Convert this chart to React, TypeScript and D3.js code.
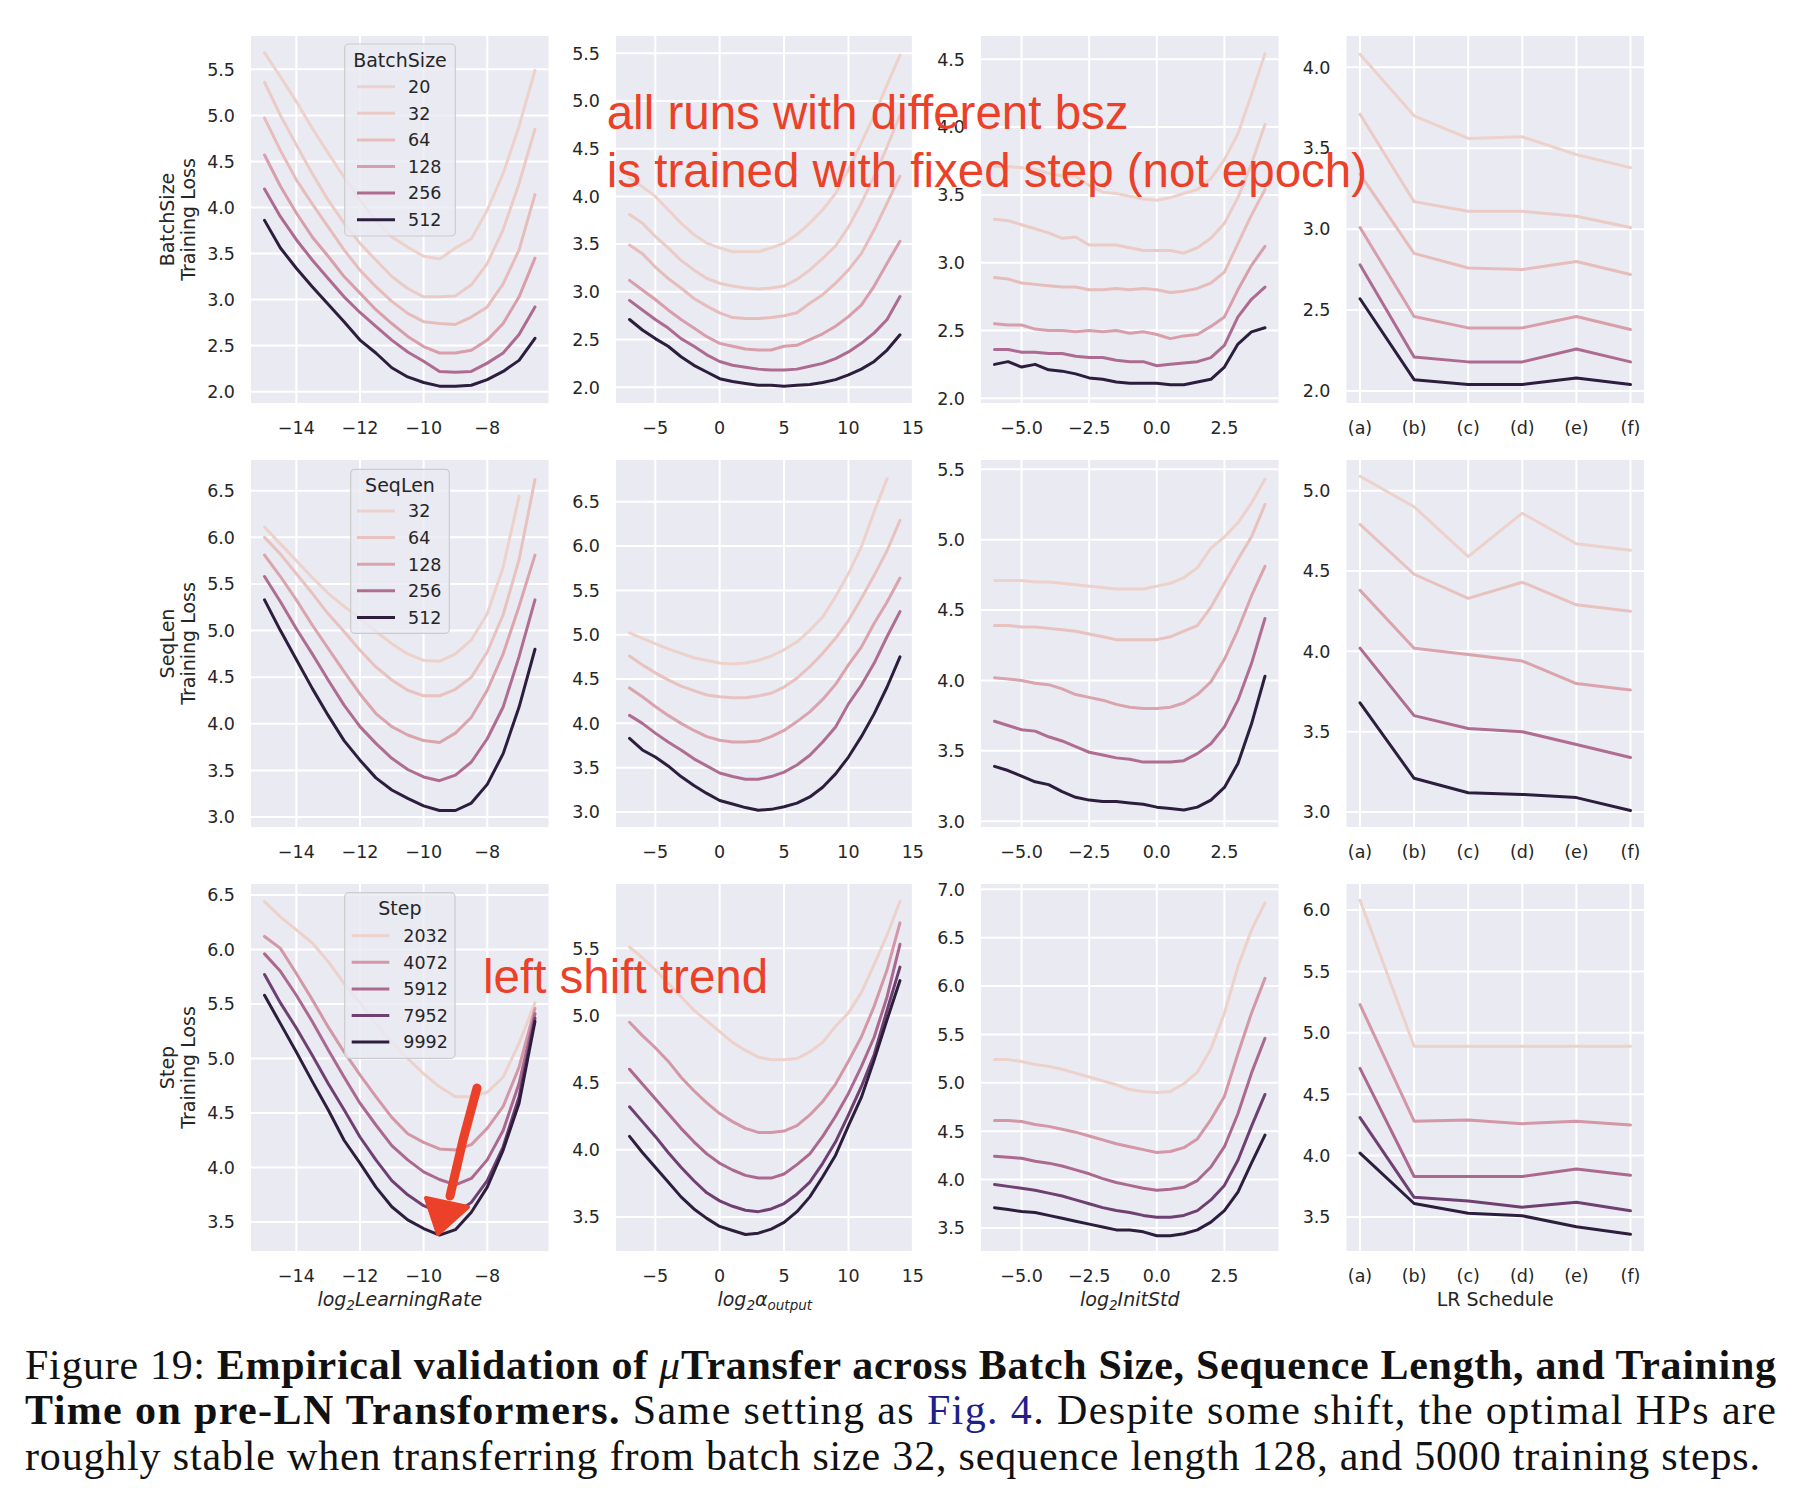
import React from 'react';
import * as d3 from 'd3';

// ---------- x grids ----------
const LR_X = [-15, -14.5, -14, -13.5, -13, -12.5, -12, -11.5, -11, -10.5, -10, -9.5, -9, -8.5, -8, -7.5, -7, -6.5];
const ALPHA_X = [-7, -6, -5, -4, -3, -2, -1, 0, 1, 2, 3, 4, 5, 6, 7, 8, 9, 10, 11, 12, 13, 14];
const STD_X = [-6, -5.5, -5, -4.5, -4, -3.5, -3, -2.5, -2, -1.5, -1, -0.5, 0, 0.5, 1, 1.5, 2, 2.5, 3, 3.5, 4];
const SCHED = ['(a)', '(b)', '(c)', '(d)', '(e)', '(f)'];

// ---------- hue levels ----------
const BATCH_SIZES = [20, 32, 64, 128, 256, 512];
const SEQ_LENS = [32, 64, 128, 256, 512];
const STEPS = [2032, 4072, 5912, 7952, 9992];

// ---------- row 1: BatchSize ----------
const BS_LR = [
  [5.68, 5.42, 5.15, 4.86, 4.59, 4.33, 4.08, 3.86, 3.68, 3.57, 3.47, 3.44, 3.56, 3.66, 3.97, 4.37, 4.88, 5.49],
  [5.36, 5.0, 4.68, 4.37, 4.08, 3.83, 3.61, 3.43, 3.25, 3.12, 3.03, 3.03, 3.04, 3.16, 3.39, 3.76, 4.26, 4.85],
  [4.97, 4.62, 4.3, 4.04, 3.79, 3.54, 3.32, 3.14, 2.98, 2.85, 2.76, 2.74, 2.73, 2.81, 2.92, 3.17, 3.54, 4.14],
  [4.57, 4.23, 3.94, 3.68, 3.47, 3.25, 3.07, 2.89, 2.74, 2.6, 2.49, 2.42, 2.42, 2.45, 2.56, 2.74, 3.03, 3.45],
  [4.2, 3.9, 3.65, 3.43, 3.23, 3.03, 2.86, 2.71, 2.56, 2.43, 2.33, 2.22, 2.21, 2.22, 2.31, 2.42, 2.62, 2.92],
  [3.86, 3.56, 3.34, 3.14, 2.95, 2.76, 2.56, 2.42, 2.26, 2.16, 2.1, 2.06, 2.06, 2.07, 2.13, 2.22, 2.34, 2.58],
];
const BS_ALPHA = [
  [4.19, 4.1, 4.0, 3.86, 3.72, 3.6, 3.51, 3.46, 3.42, 3.42, 3.42, 3.46, 3.51, 3.6, 3.72, 3.86, 4.03, 4.28, 4.56, 4.85, 5.17, 5.48],
  [3.81, 3.72, 3.58, 3.46, 3.33, 3.23, 3.14, 3.09, 3.06, 3.04, 3.03, 3.04, 3.06, 3.13, 3.23, 3.35, 3.48, 3.68, 3.93, 4.21, 4.52, 4.85],
  [3.49, 3.4, 3.26, 3.14, 3.04, 2.93, 2.85, 2.78, 2.73, 2.72, 2.72, 2.73, 2.75, 2.78, 2.88, 2.97, 3.09, 3.23, 3.4, 3.65, 3.93, 4.21],
  [3.12, 3.02, 2.92, 2.81, 2.71, 2.62, 2.53, 2.46, 2.43, 2.4, 2.39, 2.39, 2.43, 2.44, 2.5, 2.56, 2.64, 2.74, 2.86, 3.06, 3.3, 3.53],
  [2.91, 2.81, 2.71, 2.62, 2.51, 2.43, 2.34, 2.27, 2.23, 2.21, 2.19, 2.18, 2.18, 2.19, 2.22, 2.25, 2.3, 2.37, 2.46, 2.57, 2.71, 2.95],
  [2.71, 2.6, 2.51, 2.43, 2.32, 2.23, 2.16, 2.09, 2.06, 2.04, 2.02, 2.02, 2.01, 2.02, 2.03, 2.05, 2.08, 2.13, 2.19, 2.27, 2.39, 2.55],
];
const BS_STD = [
  [3.71, 3.71, 3.7, 3.69, 3.66, 3.64, 3.64, 3.57, 3.52, 3.51, 3.49, 3.47, 3.46, 3.48, 3.51, 3.54, 3.62, 3.76, 3.95, 4.24, 4.54],
  [3.32, 3.31, 3.28, 3.25, 3.22, 3.18, 3.19, 3.13, 3.13, 3.13, 3.11, 3.09, 3.09, 3.09, 3.07, 3.11, 3.18, 3.29, 3.48, 3.73, 4.02],
  [2.89, 2.88, 2.85, 2.84, 2.83, 2.82, 2.82, 2.8, 2.8, 2.81, 2.8, 2.81, 2.8, 2.78, 2.79, 2.81, 2.85, 2.93, 3.14, 3.35, 3.54],
  [2.55, 2.54, 2.54, 2.51, 2.5, 2.5, 2.49, 2.5, 2.49, 2.5, 2.48, 2.49, 2.47, 2.44, 2.46, 2.47, 2.53, 2.6, 2.8, 2.98, 3.12],
  [2.36, 2.36, 2.34, 2.34, 2.33, 2.33, 2.31, 2.3, 2.3, 2.28, 2.27, 2.27, 2.24, 2.25, 2.26, 2.27, 2.3, 2.39, 2.6, 2.73, 2.82],
  [2.25, 2.27, 2.23, 2.25, 2.21, 2.2, 2.18, 2.15, 2.14, 2.12, 2.11, 2.11, 2.11, 2.1, 2.1, 2.12, 2.14, 2.23, 2.4, 2.49, 2.52],
];
const BS_SCHED = [
  [4.08, 3.7, 3.56, 3.57, 3.46, 3.38],
  [3.71, 3.17, 3.11, 3.11, 3.08, 3.01],
  [3.34, 2.85, 2.76, 2.75, 2.8, 2.72],
  [3.01, 2.46, 2.39, 2.39, 2.46, 2.38],
  [2.78, 2.21, 2.18, 2.18, 2.26, 2.18],
  [2.57, 2.07, 2.04, 2.04, 2.08, 2.04],
];

// ---------- row 2: SeqLen ----------
const SEQ_LR = [
  [6.11, 5.93, 5.75, 5.57, 5.4, 5.26, 5.13, 4.99, 4.86, 4.75, 4.68, 4.67, 4.75, 4.9, 5.18, 5.68, 6.44],
  [6.0, 5.82, 5.61, 5.4, 5.18, 4.99, 4.79, 4.61, 4.47, 4.36, 4.3, 4.3, 4.37, 4.5, 4.77, 5.17, 5.76, 6.62],
  [5.81, 5.58, 5.33, 5.06, 4.81, 4.56, 4.32, 4.11, 3.97, 3.88, 3.82, 3.8, 3.9, 4.07, 4.36, 4.75, 5.26, 5.81],
  [5.58, 5.31, 5.02, 4.75, 4.47, 4.2, 3.97, 3.79, 3.63, 3.51, 3.43, 3.39, 3.45, 3.59, 3.84, 4.18, 4.72, 5.33],
  [5.33, 5.0, 4.69, 4.38, 4.09, 3.82, 3.61, 3.42, 3.29, 3.2, 3.12, 3.07, 3.07, 3.15, 3.35, 3.68, 4.18, 4.8],
];
const SEQ_ALPHA = [
  [5.02, 4.96, 4.9, 4.84, 4.79, 4.74, 4.71, 4.68, 4.67, 4.68, 4.71, 4.76, 4.83, 4.92, 5.05, 5.2, 5.43, 5.69, 5.99, 6.39, 6.76],
  [4.76, 4.66, 4.57, 4.49, 4.42, 4.37, 4.32, 4.3, 4.29, 4.29, 4.31, 4.34, 4.41, 4.51, 4.64, 4.79, 4.96, 5.16, 5.41, 5.67, 5.95, 6.29],
  [4.4, 4.3, 4.19, 4.09, 4.0, 3.92, 3.85, 3.81, 3.79, 3.79, 3.8, 3.85, 3.92, 4.02, 4.13, 4.27, 4.44, 4.66, 4.86, 5.13, 5.37, 5.64],
  [4.09, 4.0, 3.89, 3.79, 3.7, 3.6, 3.52, 3.44, 3.4, 3.37, 3.37, 3.4, 3.45, 3.53, 3.64, 3.79, 3.96, 4.22, 4.43, 4.68, 4.98, 5.26],
  [3.83, 3.7, 3.62, 3.52, 3.4, 3.3, 3.21, 3.13, 3.09, 3.05, 3.02, 3.03, 3.06, 3.1, 3.17, 3.28, 3.43, 3.62, 3.85, 4.11, 4.41, 4.75],
];
const SEQ_STD = [
  [4.71, 4.71, 4.71, 4.7, 4.7, 4.69, 4.68, 4.67, 4.66, 4.65, 4.65, 4.65, 4.67, 4.69, 4.73, 4.8, 4.94, 5.02, 5.12, 5.26, 5.43],
  [4.39, 4.39, 4.38, 4.38, 4.37, 4.36, 4.35, 4.33, 4.31, 4.29, 4.29, 4.29, 4.29, 4.31, 4.35, 4.39, 4.52, 4.69, 4.86, 5.02, 5.25],
  [4.02, 4.01, 4.0, 3.98, 3.97, 3.94, 3.9, 3.88, 3.86, 3.83, 3.81, 3.8, 3.8, 3.81, 3.84, 3.9, 3.99, 4.15, 4.36, 4.6, 4.81],
  [3.71, 3.68, 3.65, 3.64, 3.6, 3.57, 3.53, 3.49, 3.47, 3.45, 3.44, 3.42, 3.42, 3.42, 3.43, 3.48, 3.55, 3.67, 3.86, 4.12, 4.44],
  [3.39, 3.36, 3.32, 3.28, 3.26, 3.21, 3.17, 3.15, 3.14, 3.14, 3.13, 3.12, 3.1, 3.09, 3.08, 3.1, 3.15, 3.24, 3.41, 3.69, 4.03],
];
const SEQ_SCHED = [
  [5.09, 4.9, 4.59, 4.86, 4.67, 4.63],
  [4.79, 4.48, 4.33, 4.43, 4.29, 4.25],
  [4.38, 4.02, 3.98, 3.94, 3.8, 3.76],
  [4.02, 3.6, 3.52, 3.5, 3.42, 3.34],
  [3.68, 3.21, 3.12, 3.11, 3.09, 3.01],
];

// ---------- row 3: Step ----------
const STEP_LR = [
  [6.44, 6.3, 6.18, 6.06, 5.89, 5.69, 5.51, 5.32, 5.15, 5.0, 4.86, 4.74, 4.65, 4.65, 4.69, 4.83, 5.14, 5.51],
  [6.12, 6.01, 5.78, 5.54, 5.29, 5.06, 4.85, 4.65, 4.46, 4.31, 4.23, 4.17, 4.16, 4.21, 4.36, 4.56, 4.92, 5.46],
  [5.96, 5.8, 5.58, 5.34, 5.08, 4.83, 4.59, 4.39, 4.2, 4.07, 3.96, 3.89, 3.84, 3.9, 4.07, 4.34, 4.77, 5.41],
  [5.77, 5.51, 5.28, 5.03, 4.77, 4.53, 4.28, 4.07, 3.88, 3.75, 3.65, 3.59, 3.58, 3.68, 3.88, 4.19, 4.65, 5.37],
  [5.58, 5.32, 5.06, 4.79, 4.53, 4.25, 4.04, 3.82, 3.64, 3.52, 3.44, 3.38, 3.43, 3.59, 3.82, 4.16, 4.59, 5.34],
];
const STEP_ALPHA = [
  [5.51, 5.43, 5.34, 5.24, 5.14, 5.04, 4.96, 4.88, 4.8, 4.74, 4.69, 4.67, 4.67, 4.68, 4.73, 4.8, 4.92, 5.02, 5.17, 5.38, 5.6, 5.85],
  [4.95, 4.85, 4.76, 4.66, 4.54, 4.44, 4.35, 4.27, 4.21, 4.16, 4.13, 4.13, 4.14, 4.18, 4.26, 4.36, 4.49, 4.66, 4.84, 5.07, 5.34, 5.69],
  [4.6, 4.49, 4.38, 4.27, 4.16, 4.06, 3.97, 3.9, 3.85, 3.81, 3.79, 3.79, 3.82, 3.89, 3.97, 4.1, 4.25, 4.42, 4.62, 4.84, 5.14, 5.53],
  [4.32, 4.21, 4.1, 3.98, 3.87, 3.77, 3.68, 3.62, 3.58, 3.55, 3.54, 3.56, 3.6, 3.67, 3.76, 3.9, 4.06, 4.26, 4.47, 4.71, 5.04, 5.36],
  [4.1, 3.98, 3.87, 3.76, 3.65, 3.56, 3.49, 3.43, 3.4, 3.37, 3.38, 3.41, 3.46, 3.54, 3.65, 3.8, 3.96, 4.18, 4.39, 4.67, 4.97, 5.26],
];
const STEP_STD = [
  [5.24, 5.24, 5.22, 5.19, 5.17, 5.14, 5.1, 5.06, 5.02, 4.98, 4.93, 4.91, 4.9, 4.91, 4.99, 5.11, 5.35, 5.72, 6.2, 6.58, 6.86],
  [4.61, 4.61, 4.6, 4.57, 4.55, 4.52, 4.49, 4.45, 4.41, 4.37, 4.34, 4.31, 4.28, 4.29, 4.33, 4.42, 4.62, 4.86, 5.3, 5.72, 6.08],
  [4.24, 4.23, 4.22, 4.19, 4.17, 4.14, 4.1, 4.06, 4.01, 3.97, 3.94, 3.91, 3.89, 3.9, 3.92, 3.99, 4.13, 4.34, 4.68, 5.1, 5.46],
  [3.95, 3.93, 3.91, 3.89, 3.86, 3.83, 3.79, 3.75, 3.71, 3.68, 3.66, 3.63, 3.61, 3.61, 3.63, 3.68, 3.79, 3.94, 4.2, 4.55, 4.88],
  [3.71, 3.69, 3.67, 3.66, 3.63, 3.6, 3.57, 3.54, 3.51, 3.48, 3.48, 3.46, 3.42, 3.42, 3.44, 3.48, 3.56, 3.68, 3.87, 4.17, 4.46],
];
const STEP_SCHED = [
  [6.08, 4.89, 4.89, 4.89, 4.89, 4.89],
  [5.23, 4.28, 4.29, 4.26, 4.28, 4.25],
  [4.71, 3.83, 3.83, 3.83, 3.89, 3.84],
  [4.31, 3.66, 3.63, 3.58, 3.62, 3.55],
  [4.02, 3.61, 3.53, 3.51, 3.42, 3.36],
];

// ---------- ticks ----------
const LR_TICKS = [-14, -12, -10, -8];
const ALPHA_TICKS = [-5, 0, 5, 10, 15];
const STD_TICKS = [-5, -2.5, 0, 2.5];
const Y_TICKS = [
  [[2, 2.5, 3, 3.5, 4, 4.5, 5, 5.5], [2, 2.5, 3, 3.5, 4, 4.5, 5, 5.5], [2, 2.5, 3, 3.5, 4, 4.5], [2, 2.5, 3, 3.5, 4]],
  [[3, 3.5, 4, 4.5, 5, 5.5, 6, 6.5], [3, 3.5, 4, 4.5, 5, 5.5, 6, 6.5], [3, 3.5, 4, 4.5, 5, 5.5], [3, 3.5, 4, 4.5, 5]],
  [[3.5, 4, 4.5, 5, 5.5, 6, 6.5], [3.5, 4, 4.5, 5, 5.5], [3.5, 4, 4.5, 5, 5.5, 6, 6.5, 7], [3.5, 4, 4.5, 5, 5.5, 6]],
];
const Y_DOMAINS = [
  [[1.877, 5.862], [1.835, 5.681], [1.965, 4.672], [1.926, 4.193]],
  [[2.893, 6.83], [2.831, 6.971], [2.959, 5.566], [2.907, 5.191]],
  [[3.234, 6.601], [3.247, 5.979], [3.262, 7.055], [3.223, 6.212]],
];
const X_DOMAINS = [[-15.425, -6.075], [-8.05, 15.05], [-6.5, 4.5], [-0.25, 5.25]];

// ---------- layout ----------
const COL_LEFT = [251, 616, 981, 1346.5];
const ROW_TOP = [36, 460, 884];
const PW = 297.5;
const PH = 367;

const FONT = "'DejaVu Sans', sans-serif";
const TXT = '#262626';
const RED = '#EB4128';

function cubehelix(t: number): string {
  const x = 0.85 + (0.15 - 0.85) * t;
  const h = 0.8, r = 0.4, s = 0;
  const a = (h * x * (1 - x)) / 2;
  const phi = 2 * Math.PI * (s / 3 + r * x);
  const c = Math.cos(phi), sn = Math.sin(phi);
  const R = x + a * (-0.14861 * c + 1.78277 * sn);
  const G = x + a * (-0.29227 * c - 0.90649 * sn);
  const B = x + a * (1.97294 * c);
  const cl = (v: number) => Math.max(0, Math.min(1, v)) * 255;
  return d3.rgb(cl(R), cl(G), cl(B)).formatHex();
}

function levelColors(levels: number[]): string[] {
  const n = d3.scaleLinear().domain([d3.min(levels)!, d3.max(levels)!]).range([0, 1]);
  return levels.map((v) => cubehelix(n(v)));
}

const fmtMinus = (s: string) => s.replace('-', '\u2212');

type PanelProps = {
  row: number;
  col: number;
  xs: number[];
  data: number[][];
  colors: string[];
};

function Panel({ row, col, xs, data, colors }: PanelProps) {
  const left = COL_LEFT[col];
  const top = ROW_TOP[row];
  const xd = X_DOMAINS[col];
  const yd = Y_DOMAINS[row][col];
  const x = d3.scaleLinear().domain(xd).range([left, left + PW]);
  const y = d3.scaleLinear().domain(yd).range([top + PH, top]);
  const yTicks = Y_TICKS[row][col];
  let xTicks: number[];
  let xLabels: string[];
  if (col === 0) { xTicks = LR_TICKS; xLabels = LR_TICKS.map((v) => fmtMinus(String(v))); }
  else if (col === 1) { xTicks = ALPHA_TICKS; xLabels = ALPHA_TICKS.map((v) => fmtMinus(String(v))); }
  else if (col === 2) { xTicks = STD_TICKS; xLabels = STD_TICKS.map((v) => fmtMinus(d3.format('.1f')(v))); }
  else { xTicks = SCHED.map((_, i) => i); xLabels = SCHED; }
  const line = d3.line<number>().x((_, i) => x(col === 3 ? i : xs[i])).y((v) => y(v));
  const clipId = `clip-${row}-${col}`;
  return (
    <g>
      <defs>
        <clipPath id={clipId}>
          <rect x={left} y={top} width={PW} height={PH} />
        </clipPath>
      </defs>
      <rect x={left} y={top} width={PW} height={PH} fill="#EAEAF2" />
      {yTicks.map((t) => (
        <line key={'gy' + t} x1={left} x2={left + PW} y1={y(t)} y2={y(t)} stroke="#fff" strokeWidth={2} />
      ))}
      {xTicks.map((t) => (
        <line key={'gx' + t} x1={x(t)} x2={x(t)} y1={top} y2={top + PH} stroke="#fff" strokeWidth={2} />
      ))}
      <g clipPath={`url(#${clipId})`}>
        {data.map((ys, i) => (
          <path key={i} d={line(ys) || ''} fill="none" stroke={colors[i]} strokeWidth={3} strokeLinejoin="round" strokeLinecap="round" />
        ))}
      </g>
      {yTicks.map((t) => (
        <text key={'ty' + t} x={left - 16} y={y(t) + 6.3} textAnchor="end" fontFamily={FONT} fontSize={17.5} fill={TXT}>
          {d3.format('.1f')(t)}
        </text>
      ))}
      {xTicks.map((t, i) => (
        <text key={'tx' + t} x={x(t)} y={top + PH + 31} textAnchor="middle" fontFamily={FONT} fontSize={17.5} fill={TXT}>
          {xLabels[i]}
        </text>
      ))}
    </g>
  );
}

type LegendProps = {
  title: string;
  levels: number[];
  colors: string[];
  box: [number, number, number, number];
  titleY: number;
  firstY: number;
  lineX: [number, number];
  textX: number;
};

function Legend({ title, levels, colors, box, titleY, firstY, lineX, textX }: LegendProps) {
  const [bx, by, bw, bh] = box;
  const step = 26.6;
  return (
    <g>
      <rect x={bx} y={by} width={bw} height={bh} rx={4} fill="#EAEAF2" fillOpacity={0.8} stroke="#cccccc" strokeWidth={1.2} />
      <text x={bx + bw / 2} y={titleY} textAnchor="middle" fontFamily={FONT} fontSize={19} fill={TXT}>{title}</text>
      {levels.map((v, i) => (
        <g key={v}>
          <line x1={lineX[0]} x2={lineX[1]} y1={firstY + i * step} y2={firstY + i * step} stroke={colors[i]} strokeWidth={3} />
          <text x={textX} y={firstY + i * step + 6.3} fontFamily={FONT} fontSize={17.5} fill={TXT}>{v}</text>
        </g>
      ))}
    </g>
  );
}

export default function App() {
  const bsC = levelColors(BATCH_SIZES);
  const seqC = levelColors(SEQ_LENS);
  const stC = levelColors(STEPS);
  const rows = [
    { data: [BS_LR, BS_ALPHA, BS_STD, BS_SCHED], colors: bsC, name: 'BatchSize' },
    { data: [SEQ_LR, SEQ_ALPHA, SEQ_STD, SEQ_SCHED], colors: seqC, name: 'SeqLen' },
    { data: [STEP_LR, STEP_ALPHA, STEP_STD, STEP_SCHED], colors: stC, name: 'Step' },
  ];
  const xsByCol = [LR_X, ALPHA_X, STD_X, SCHED.map((_, i) => i)];
  const xLabelY = ROW_TOP[2] + PH + 55;
  const capStyle = { fontFamily: "'Liberation Serif', 'Times New Roman', serif", fontSize: 42, fill: '#111' };
  return (
    <svg width={1806} height={1502} style={{ position: 'absolute', left: 0, top: 0, background: '#fff' }}>
      <rect x={0} y={0} width={1806} height={1502} fill="#fff" />
      {rows.map((r, ri) => (
        <g key={ri}>
          {r.data.map((d, ci) => (
            <Panel key={ci} row={ri} col={ci} xs={xsByCol[ci]} data={d} colors={r.colors} />
          ))}
          <text transform={`translate(174,${ROW_TOP[ri] + PH / 2}) rotate(-90)`} textAnchor="middle" fontFamily={FONT} fontSize={19} fill={TXT}>{r.name}</text>
          <text transform={`translate(195,${ROW_TOP[ri] + PH / 2}) rotate(-90)`} textAnchor="middle" fontFamily={FONT} fontSize={19} fill={TXT}>Training Loss</text>
        </g>
      ))}

      <Legend title="BatchSize" levels={BATCH_SIZES} colors={bsC} box={[344.7, 44, 110.6, 192]} titleY={67} firstY={86.7} lineX={[357, 395]} textX={408} />
      <Legend title="SeqLen" levels={SEQ_LENS} colors={seqC} box={[350.7, 469.3, 98.6, 164]} titleY={491.5} firstY={511} lineX={[357, 395]} textX={408} />
      <Legend title="Step" levels={STEPS} colors={stC} box={[344.7, 892.7, 110.3, 165.6]} titleY={915} firstY={935.7} lineX={[351.7, 389.3]} textX={403.3} />

      {/* x-axis labels */}
      <text x={COL_LEFT[0] + PW / 2} y={xLabelY} textAnchor="middle" fontFamily={FONT} fontSize={19} fill={TXT} fontStyle="italic">
        log<tspan fontSize={13.5} dy={4}>2</tspan><tspan dy={-4}>LearningRate</tspan>
      </text>
      <text x={COL_LEFT[1] + PW / 2} y={xLabelY} textAnchor="middle" fontFamily={FONT} fontSize={19} fill={TXT} fontStyle="italic">
        log<tspan fontSize={13.5} dy={4}>2</tspan><tspan dy={-4}>α</tspan><tspan fontSize={13.5} dy={4}>output</tspan>
      </text>
      <text x={COL_LEFT[2] + PW / 2} y={xLabelY} textAnchor="middle" fontFamily={FONT} fontSize={19} fill={TXT} fontStyle="italic">
        log<tspan fontSize={13.5} dy={4}>2</tspan><tspan dy={-4}>InitStd</tspan>
      </text>
      <text x={COL_LEFT[3] + PW / 2} y={xLabelY} textAnchor="middle" fontFamily={FONT} fontSize={19} fill={TXT}>LR Schedule</text>

      {/* red annotations */}
      <g fontFamily="'Liberation Sans', Arial, Helvetica, sans-serif" fontSize={47.5} fill={RED}>
        <text x={606.7} y={129.3}>all runs with different bsz</text>
        <text x={606.7} y={186.7}>is trained with fixed step (not epoch)</text>
        <text x={483} y={993.3}>left shift trend</text>
      </g>
      <g>
        <path d="M477,1088 L463,1140 L450,1196" fill="none" stroke={RED} strokeWidth={9} strokeLinecap="round" />
        <polygon points="426,1198 468,1207 438,1234" fill={RED} stroke={RED} strokeWidth={4} strokeLinejoin="round" />
      </g>

      {/* caption */}
      <text x={25} y={1379} textLength={1751} lengthAdjust="spacing" {...capStyle}>
        Figure 19: <tspan fontWeight="bold">Empirical validation of </tspan><tspan fontStyle="italic">μ</tspan><tspan fontWeight="bold">Transfer across Batch Size, Sequence Length, and Training</tspan>
      </text>
      <text x={25} y={1424} textLength={1751} lengthAdjust="spacing" {...capStyle}>
        <tspan fontWeight="bold">Time on pre-LN Transformers.</tspan> Same setting as <tspan fill="#1f1f8a">Fig. 4</tspan>. Despite some shift, the optimal HPs are
      </text>
      <text x={25} y={1470} textLength={1735} lengthAdjust="spacing" {...capStyle}>
        roughly stable when transferring from batch size 32, sequence length 128, and 5000 training steps.
      </text>
    </svg>
  );
}
